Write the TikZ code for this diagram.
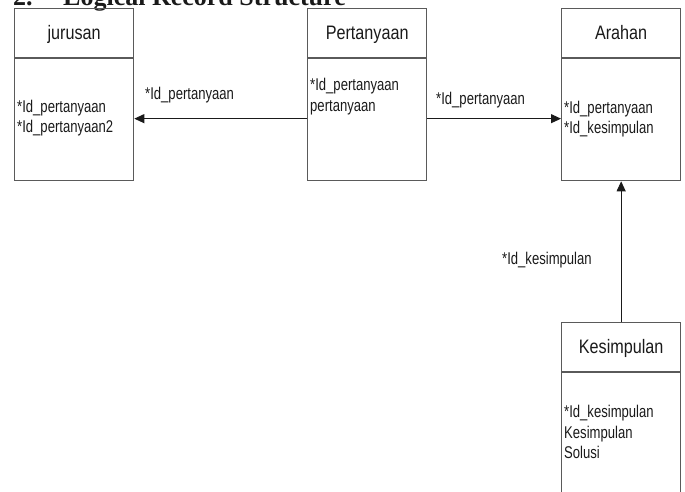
\documentclass[tikz,border=0pt]{standalone}
\usepackage{fontspec}
\setmainfont{Liberation Sans}
\newfontfamily\hdfont{Liberation Sans}[FakeStretch=0.83]
\newfontfamily\bdfont{Liberation Sans}[FakeStretch=0.77]
\newfontfamily\ttlfont{Liberation Serif}
\usetikzlibrary{arrows.meta,calc}
\definecolor{boxgray}{HTML}{5A5A5A}
\definecolor{ink}{HTML}{1A1A1A}
\begin{document}
\begin{tikzpicture}[x=1pt,y=-1pt,
  entity/.style={draw=boxgray, line width=1.3pt, minimum width=119pt, minimum height=172pt, inner sep=0pt, anchor=north west},
  hdr/.style={font=\hdfont\fontsize{19.5}{23}\selectfont, text=ink, anchor=base, inner sep=0pt},
  fld/.style={font=\bdfont\fontsize{17}{21}\selectfont, text=ink, anchor=base west, inner sep=0pt},
  lbl/.style={fld},
  link/.style={draw=ink, line width=1pt, -{Triangle[length=10pt,width=9pt]}},
  sep/.style={draw=boxgray, line width=1.3pt},
  ttl/.style={font=\ttlfont\bfseries\fontsize{26}{30}\selectfont, text=ink, anchor=base west, inner sep=0pt}]
\useasboundingbox (0,0) rectangle (685,491);
\clip (0,0) rectangle (685,491);

% title (cut off at top)
\node[ttl] (num) at (13,5) {2.};
\node[ttl] (title) at (63,5) {Logical Record Structure};

% entities
\node[entity] (jur) at (14,8) {};
\node[entity] (pert) at (307,8) {};
\node[entity] (arah) at (561,8) {};
\node[entity, minimum height=200pt] (kes) at (561,322) {};

% header separators
\foreach \b in {jur,pert,arah,kes}
  \draw[sep] ([yshift=-50pt]\b.north west) -- ([yshift=-50pt]\b.north east);

% header texts
\node[hdr] (jurT) at ([yshift=-31pt]jur.north) {jurusan};
\node[hdr] (pertT) at ([yshift=-31pt]pert.north) {Pertanyaan};
\node[hdr] (arahT) at ([yshift=-31pt]arah.north) {Arahan};
\node[hdr] (kesT) at ([yshift=-31pt]kes.north) {Kesimpulan};

% fields
\node[fld] (jur1) at (17,112) {*Id\_pertanyaan};
\node[fld] (jur2) at (17,132) {*Id\_pertanyaan2};
\node[fld] (pert1) at (310,90) {*Id\_pertanyaan};
\node[fld] (pert2) at (310,111) {pertanyaan};
\node[fld] (arah1) at (564,113) {*Id\_pertanyaan};
\node[fld] (arah2) at (564,133) {*Id\_kesimpulan};
\node[fld] (kes1) at (564,417) {*Id\_kesimpulan};
\node[fld] (kes2) at (564,438) {Kesimpulan};
\node[fld] (kes3) at (564,458) {Solusi};

% connectors
\draw[link] ([yshift=-24pt]pert.west) -- ([yshift=-24pt]jur.east);
\draw[link] ([yshift=-24pt]pert.east) -- ([yshift=-24pt]arah.west);
\draw[link] (kes.north) -- (arah.south);

% connector labels
\node[lbl] (l1) at (145,99) {*Id\_pertanyaan};
\node[lbl] (l2) at (436,104) {*Id\_pertanyaan};
\node[lbl] (l3) at (502,264) {*Id\_kesimpulan};
\end{tikzpicture}
\end{document}
